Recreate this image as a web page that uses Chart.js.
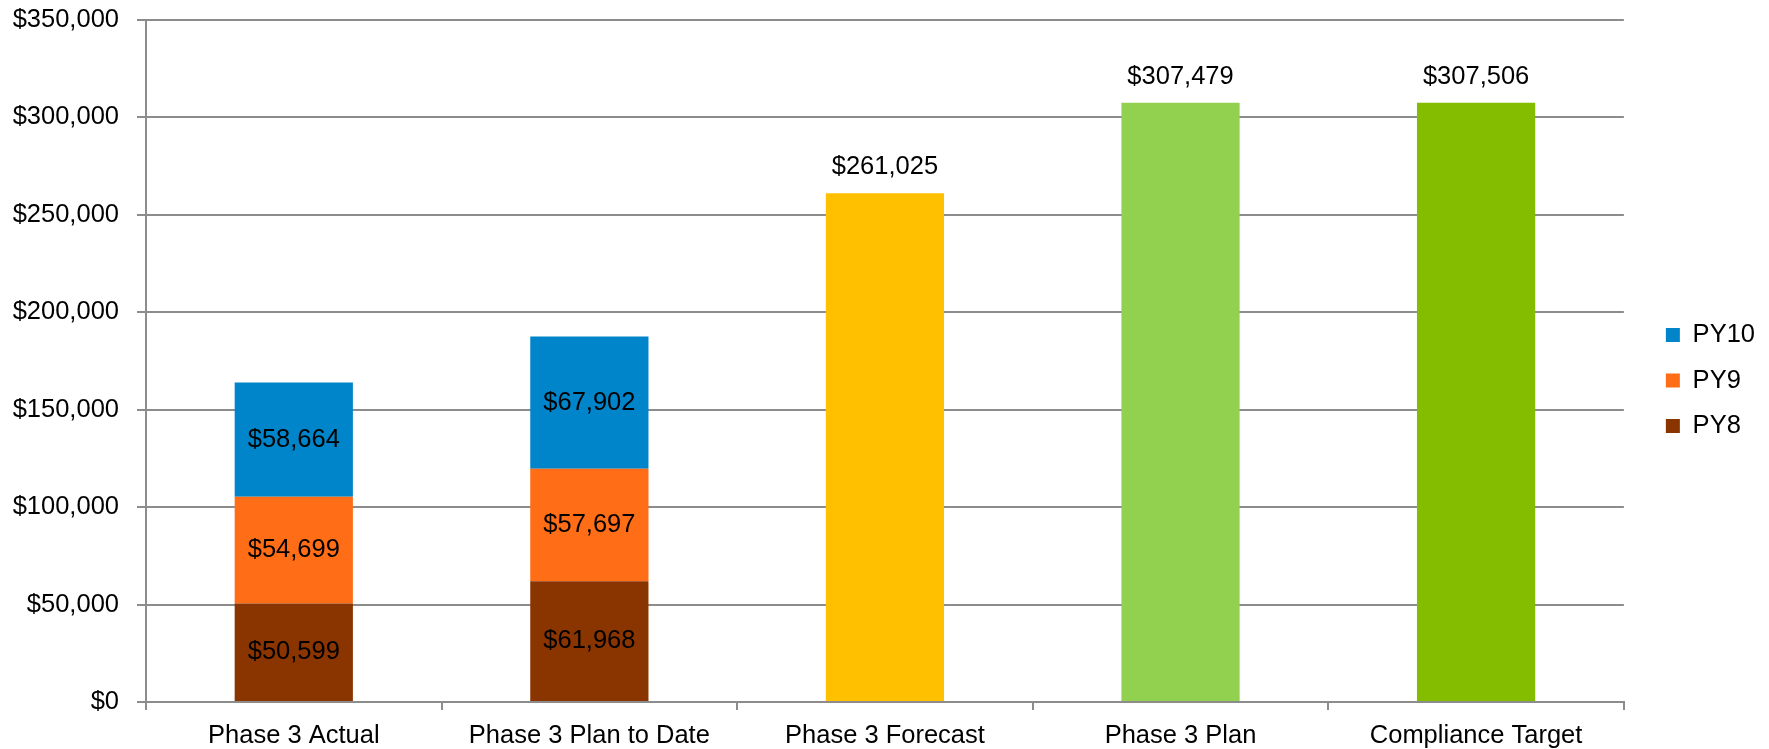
<!DOCTYPE html>
<html>
<head>
<meta charset="utf-8">
<title>Phase 3 spending</title>
<script src="https://cdn.jsdelivr.net/npm/chart.js@4"></script>
<style>
  html, body { margin: 0; padding: 0; background: #fff; }
  #wrap { width: 1769px; height: 749px; position: relative; }
</style>
</head>
<body>
<div id="wrap"><canvas id="chart"></canvas></div>
<script>
// categories + values
const categories = ['Phase 3 Actual', 'Phase 3 Plan to Date', 'Phase 3 Forecast', 'Phase 3 Plan', 'Compliance Target'];
const py8  = [50599, 61968, null, null, null];
const py9  = [54699, 57697, null, null, null];
const py10 = [58664, 67902, null, null, null];
const totals = [null, null, 261025, 307479, 307506];
const totalColors = ['#FFC000', '#FFC000', '#FFC000', '#92D050', '#84BD00'];
const yMax = 350000;
const yStep = 50000;

const FONT = 'Arial, "Liberation Sans", sans-serif';
const GRID = '#8c8c8c';
const LEGEND_GAP = 22; // extra room left of the legend squares
const LEGEND_LIFT = 4;

const money = v => '$' + Number(v).toLocaleString('en-US');

// value labels: centred in stacked pieces, above the single bars
const valueLabels = {
  id: 'valueLabels',
  afterDatasetsDraw(chart) {
    const ctx = chart.ctx;
    ctx.save();
    ctx.font = '25.5px ' + FONT;
    ctx.fillStyle = '#000';
    ctx.textAlign = 'center';
    ctx.textBaseline = 'middle';
    chart.data.datasets.forEach((ds, di) => {
      const meta = chart.getDatasetMeta(di);
      meta.data.forEach((bar, i) => {
        const v = ds.data[i];
        if (v == null) return;
        if (ds.isTotal) {
          ctx.fillText(money(v), bar.x, bar.y - 26);
        } else {
          ctx.fillText(money(v), bar.x, (bar.y + bar.base) / 2);
        }
      });
    });
    ctx.restore();
  }
};

// widen the legend box and push its items right, keeps row spacing tight
const legendGap = {
  id: 'legendGap',
  beforeInit(chart) {
    const lg = chart.legend;
    if (!lg) return;
    const fit = lg.fit;
    lg.fit = function () {
      fit.call(this);
      this.width += LEGEND_GAP;
    };
  },
  afterLayout(chart) {
    const lg = chart.legend;
    if (!lg) return;
    lg.left += LEGEND_GAP;
    lg.top -= LEGEND_LIFT;
    lg.bottom -= LEGEND_LIFT;
  }
};

new Chart(document.getElementById('chart'), {
  type: 'bar',
  data: {
    labels: categories,
    datasets: [
      { label: 'PY8', data: py8, backgroundColor: '#8A3400' },
      { label: 'PY9', data: py9, backgroundColor: '#FF6D17' },
      { label: 'PY10', data: py10, backgroundColor: '#0085CA' },
      { label: 'Total', data: totals, backgroundColor: totalColors, isTotal: true },
    ],
  },
  options: {
    responsive: true,
    maintainAspectRatio: false,
    animation: false,
    categoryPercentage: 0.8,
    barPercentage: 0.5,
    layout: { padding: { top: 20, right: 4, left: 0, bottom: 0 } },
    plugins: {
      tooltip: { enabled: false },
      legend: {
        position: 'right',
        reverse: true,
        labels: {
          filter: item => item.text !== 'Total',
          boxWidth: 14,
          boxHeight: 14,
          padding: 20,
          color: '#000',
          font: { family: FONT, size: 25.5 },
        },
      },
    },
    scales: {
      x: {
        stacked: true,
        afterFit(scale) { scale.height = 47; },
        border: { display: true, color: GRID, width: 2 },
        grid: { display: true, drawOnChartArea: false, drawTicks: true, tickLength: 8, color: GRID, lineWidth: 2, offset: true },
        ticks: { color: '#000', padding: 11, maxRotation: 0, font: { family: FONT, size: 25.5 } },
      },
      y: {
        stacked: true,
        min: 0,
        max: yMax,
        afterFit(scale) {
          scale.width = 146;
          scale.paddingTop = 0;
          scale.paddingBottom = 0;
        },
        border: { display: true, color: GRID, width: 2 },
        grid: { color: GRID, lineWidth: 2, tickLength: 9 },
        ticks: {
          stepSize: yStep,
          color: '#000',
          padding: 18,
          font: { family: FONT, size: 25.5 },
          callback: v => money(v),
        },
      },
    },
  },
  plugins: [legendGap, valueLabels],
});
</script>
</body>
</html>
